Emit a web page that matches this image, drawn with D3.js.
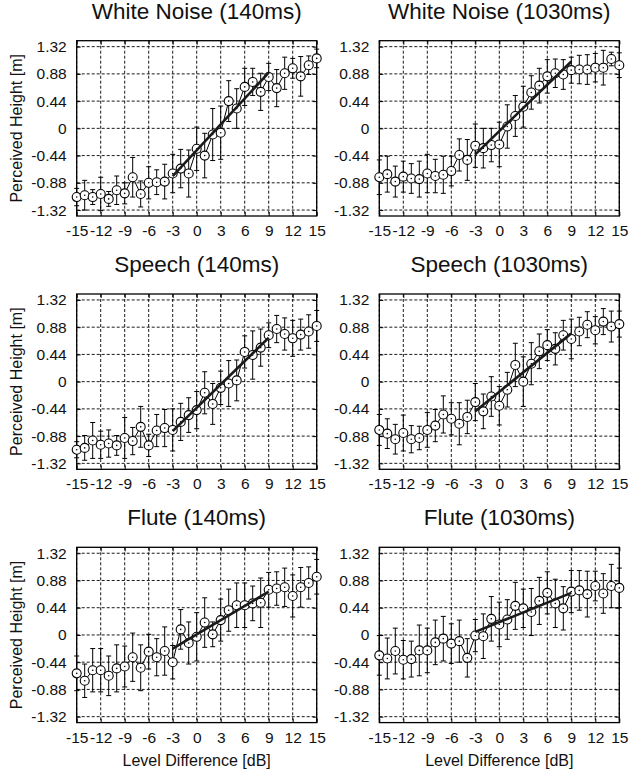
<!DOCTYPE html>
<html>
<head>
<meta charset="utf-8">
<script src="https://d3js.org/d3.v7.min.js"></script>
<style>
  html, body { margin: 0; padding: 0; background: #fff; }
  svg { display: block; font-family: "Liberation Sans", Arial, sans-serif; }
</style>
</head>
<body>
<div id="chart"></div>
<script>
// level difference in dB (x) and tick values
const levels = [-15,-14,-13,-12,-11,-10,-9,-8,-7,-6,-5,-4,-3,-2,-1,0,1,2,3,4,5,6,7,8,9,10,11,12,13,14,15];
const xTicks = [-15,-12,-9,-6,-3,0,3,6,9,12,15];
const yTicks = [-1.32,-0.88,-0.44,0,0.44,0.88,1.32];
const fitX = [-3, 9];

const panelTitles = ['White Noise (140ms)', 'White Noise (1030ms)', 'Speech (140ms)', 'Speech (1030ms)', 'Flute (140ms)', 'Flute (1030ms)'];

// mean perceived height [m]
const wn140Mean = [-1.11,-1.08,-1.11,-1.06,-1.14,-1.00,-1.05,-0.79,-1.06,-0.88,-0.87,-0.86,-0.73,-0.65,-0.73,-0.33,-0.44,-0.10,-0.07,0.44,0.32,0.67,0.75,0.59,0.83,0.65,0.89,0.97,0.84,1.02,1.13];
const wn140Err  = [0.14,0.24,0.12,0.27,0.12,0.23,0.17,0.32,0.21,0.26,0.20,0.28,0.31,0.31,0.38,0.35,0.36,0.42,0.43,0.33,0.32,0.30,0.22,0.30,0.22,0.30,0.26,0.16,0.32,0.15,0.15];
const wn1030Mean = [-0.79,-0.74,-0.86,-0.78,-0.81,-0.82,-0.73,-0.77,-0.75,-0.69,-0.43,-0.51,-0.28,-0.32,-0.27,-0.26,0.03,0.20,0.35,0.58,0.69,0.84,0.89,0.87,0.94,0.95,0.95,0.98,0.98,1.12,1.02];
const wn1030Err  = [0.28,0.29,0.25,0.25,0.24,0.29,0.31,0.27,0.30,0.24,0.26,0.33,0.35,0.32,0.27,0.36,0.35,0.33,0.33,0.27,0.28,0.27,0.23,0.24,0.21,0.23,0.24,0.23,0.28,0.11,0.20];
const sp140Mean = [-1.10,-1.07,-0.95,-1.02,-1.00,-1.03,-0.91,-0.96,-0.73,-1.03,-0.79,-0.75,-0.78,-0.65,-0.54,-0.46,-0.18,-0.36,-0.10,-0.03,0.02,0.48,0.43,0.55,0.75,0.85,0.77,0.70,0.76,0.81,0.90];
const sp140Err  = [0.13,0.20,0.29,0.22,0.22,0.16,0.33,0.22,0.33,0.18,0.26,0.30,0.34,0.30,0.28,0.30,0.34,0.33,0.27,0.37,0.33,0.26,0.39,0.30,0.20,0.22,0.26,0.29,0.25,0.27,0.25];
const sp1030Mean = [-0.78,-0.84,-0.93,-0.83,-0.93,-0.91,-0.78,-0.71,-0.53,-0.60,-0.68,-0.57,-0.33,-0.48,-0.24,-0.39,-0.13,0.27,0.00,0.29,0.49,0.59,0.53,0.75,0.69,0.81,0.92,0.83,0.97,0.89,0.93];
const sp1030Err  = [0.25,0.24,0.24,0.29,0.22,0.19,0.28,0.26,0.30,0.26,0.34,0.27,0.30,0.28,0.32,0.31,0.28,0.35,0.40,0.34,0.28,0.25,0.26,0.24,0.32,0.23,0.21,0.22,0.21,0.25,0.21];
const fl140Mean = [-0.62,-0.74,-0.57,-0.57,-0.66,-0.54,-0.51,-0.36,-0.53,-0.27,-0.36,-0.26,-0.44,0.09,-0.13,-0.03,0.20,0.01,0.24,0.40,0.48,0.48,0.51,0.52,0.73,0.75,0.77,0.63,0.77,0.84,0.94];
const fl140Err  = [0.28,0.27,0.35,0.35,0.32,0.38,0.33,0.39,0.37,0.28,0.30,0.39,0.27,0.32,0.34,0.39,0.40,0.20,0.34,0.34,0.36,0.36,0.28,0.40,0.28,0.27,0.31,0.34,0.32,0.26,0.28];
const fl1030Mean = [-0.33,-0.38,-0.26,-0.40,-0.39,-0.25,-0.25,-0.12,-0.06,-0.14,-0.10,-0.37,-0.01,-0.02,0.26,0.17,0.25,0.47,0.43,0.37,0.55,0.68,0.51,0.43,0.70,0.72,0.66,0.79,0.67,0.79,0.76];
const fl1030Err  = [0.32,0.33,0.37,0.31,0.29,0.41,0.36,0.36,0.36,0.32,0.34,0.31,0.26,0.36,0.36,0.36,0.32,0.38,0.31,0.38,0.38,0.34,0.39,0.35,0.34,0.32,0.37,0.24,0.32,0.35,0.32];

// regression line values at x = -3 and x = 9
const wn140Fit = [-0.77, 0.90];
const wn1030Fit = [-0.42, 1.08];
const sp140Fit = [-0.80, 0.71];
const sp1030Fit = [-0.48, 0.78];
const fl140Fit = [-0.22, 0.70];
const fl1030Fit = [0.05, 0.68];

const panels = [
  { title: panelTitles[0], mean: wn140Mean, err: wn140Err, fit: wn140Fit },
  { title: panelTitles[1], mean: wn1030Mean, err: wn1030Err, fit: wn1030Fit },
  { title: panelTitles[2], mean: sp140Mean, err: sp140Err, fit: sp140Fit },
  { title: panelTitles[3], mean: sp1030Mean, err: sp1030Err, fit: sp1030Fit },
  { title: panelTitles[4], mean: fl140Mean, err: fl140Err, fit: fl140Fit },
  { title: panelTitles[5], mean: fl1030Mean, err: fl1030Err, fit: fl1030Fit }
];

const width = 630, height = 778;
const plotW = 240, plotH = 175.3;
const colLeft = [76.7, 379.3];
const rowTop = [40.7, 294, 547.3];

const svg = d3.select('#chart').append('svg')
  .attr('width', width)
  .attr('height', height);

const x = d3.scaleLinear().domain([-15, 15]).range([0, plotW]);
const y = d3.scaleLinear().domain([-1.416, 1.416]).range([plotH, 0]);

panels.forEach((p, i) => {
  const col = i % 2, row = Math.floor(i / 2);
  const g = svg.append('g')
    .attr('transform', `translate(${colLeft[col]},${rowTop[row]})`);

  // title
  g.append('text')
    .attr('x', plotW / 2)
    .attr('y', -22)
    .attr('text-anchor', 'middle')
    .attr('fill', '#111')
    .style('font-size', '22.5px')
    .text(p.title);

  // dashed grid
  g.append('g').selectAll('line')
    .data(xTicks)
    .join('line')
    .attr('x1', d => x(d)).attr('x2', d => x(d))
    .attr('y1', 0).attr('y2', plotH)
    .attr('stroke', '#000').attr('stroke-width', 0.9)
    .attr('stroke-dasharray', '3,2');
  g.append('g').selectAll('line')
    .data(yTicks)
    .join('line')
    .attr('x1', 0).attr('x2', plotW)
    .attr('y1', d => y(d)).attr('y2', d => y(d))
    .attr('stroke', '#000').attr('stroke-width', 0.9)
    .attr('stroke-dasharray', '3,2');

  // axes with inner ticks
  const xAxis = g.append('g')
    .attr('transform', `translate(0,${plotH})`)
    .call(d3.axisBottom(x).tickValues(xTicks).tickSizeInner(-4).tickSizeOuter(0).tickPadding(9).tickFormat(d => String(d)));
  const yAxis = g.append('g')
    .call(d3.axisLeft(y).tickValues(yTicks).tickSizeInner(-4).tickSizeOuter(0).tickPadding(10).tickFormat(d => String(d)));
  g.append('g')
    .call(d3.axisTop(x).tickValues(xTicks).tickSizeInner(-4).tickSizeOuter(0).tickFormat(''));
  g.append('g')
    .attr('transform', `translate(${plotW},0)`)
    .call(d3.axisRight(y).tickValues(yTicks).tickSizeInner(-4).tickSizeOuter(0).tickFormat(''));
  g.selectAll('.domain').remove();
  g.selectAll('.tick line').attr('stroke', '#000');
  [xAxis, yAxis].forEach(a => a.selectAll('text')
    .style('font-size', '15.5px')
    .style('font-family', '"Liberation Sans", Arial, sans-serif')
    .attr('fill', '#111'));

  // frame
  g.append('rect')
    .attr('width', plotW).attr('height', plotH)
    .attr('fill', 'none').attr('stroke', '#000').attr('stroke-width', 1.3);

  const pts = levels.map((lv, k) => ({ lv, m: p.mean[k], e: p.err[k] }));

  // connecting line
  g.append('path')
    .datum(pts)
    .attr('fill', 'none').attr('stroke', '#000').attr('stroke-width', 1)
    .attr('d', d3.line().x(d => x(d.lv)).y(d => y(d.m)));

  // error bars
  const eb = g.append('g').attr('stroke', '#000').attr('stroke-width', 1);
  eb.selectAll('.v').data(pts).join('line')
    .attr('x1', d => x(d.lv)).attr('x2', d => x(d.lv))
    .attr('y1', d => y(d.m - d.e)).attr('y2', d => y(d.m + d.e));
  eb.selectAll('.t').data(pts).join('line')
    .attr('x1', d => x(d.lv) - 2.5).attr('x2', d => x(d.lv) + 2.5)
    .attr('y1', d => y(d.m + d.e)).attr('y2', d => y(d.m + d.e));
  eb.selectAll('.b').data(pts).join('line')
    .attr('x1', d => x(d.lv) - 2.5).attr('x2', d => x(d.lv) + 2.5)
    .attr('y1', d => y(d.m - d.e)).attr('y2', d => y(d.m - d.e));

  // markers
  g.append('g').selectAll('circle').data(pts).join('circle')
    .attr('cx', d => x(d.lv)).attr('cy', d => y(d.m))
    .attr('r', 4.5)
    .attr('fill', '#fff').attr('stroke', '#000').attr('stroke-width', 1.1);
  g.append('g').selectAll('circle').data(pts).join('circle')
    .attr('cx', d => x(d.lv)).attr('cy', d => y(d.m))
    .attr('r', 0.8).attr('fill', '#000');

  // regression line
  g.append('line')
    .attr('x1', x(fitX[0])).attr('y1', y(p.fit[0]))
    .attr('x2', x(fitX[1])).attr('y2', y(p.fit[1]))
    .attr('stroke', '#1a1a1a').attr('stroke-width', 2.6);

  if (col === 0) {
    g.append('text')
      .attr('transform', `translate(${16 - colLeft[0]},${plotH / 2}) rotate(-90)`)
      .attr('text-anchor', 'middle')
      .attr('dy', '0.35em')
      .attr('fill', '#111')
      .style('font-size', '16px')
      .text('Perceived Height [m]');
  }
  if (row === 2) {
    g.append('text')
      .attr('x', plotW / 2)
      .attr('y', 766 - rowTop[2])
      .attr('text-anchor', 'middle')
      .attr('fill', '#111')
      .style('font-size', '16px')
      .text('Level Difference [dB]');
  }
});
</script>
</body>
</html>
